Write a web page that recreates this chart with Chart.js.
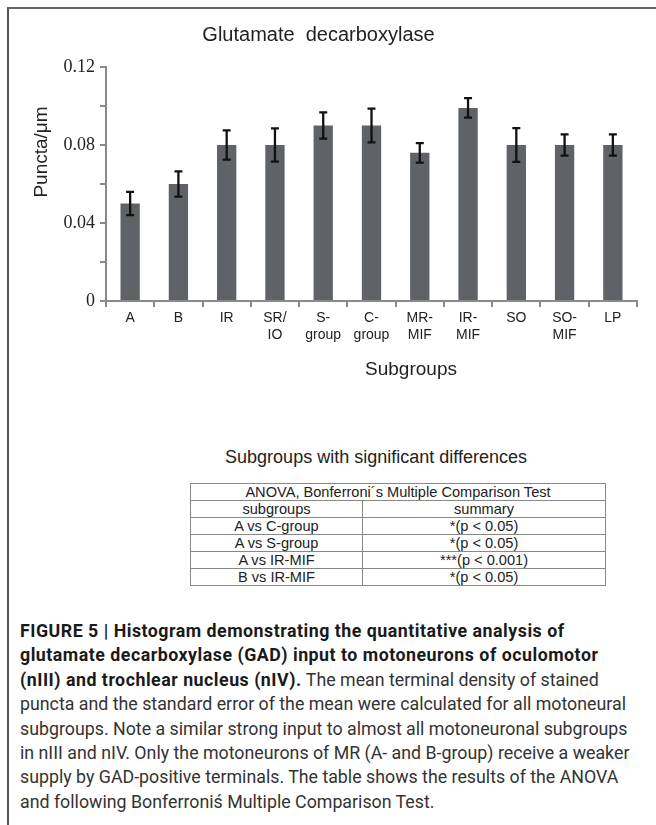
<!DOCTYPE html>
<html>
<head>
<meta charset="utf-8">
<script src="https://cdn.jsdelivr.net/npm/chart.js@4"></script>
<style>
  body { margin: 0; background: #fff; width: 656px; height: 825px; position: relative; overflow: hidden; font-family: "Liberation Sans", Arial, sans-serif; }
  #frame { position: absolute; left: 7px; top: 7px; right: -5px; bottom: -5px; border-top: 2px solid #666; border-left: 2px solid #555; }
  #wrap { position: absolute; left: 0; top: 0; width: 656px; height: 400px; }
  #sub { position: absolute; left: 0; width: 752px; top: 447px; text-align: center; font-size: 18px; color: #222; }
  table { position: absolute; left: 190px; top: 483px; width: 416px; border-collapse: collapse; font-size: 14.6px; color: #222; }
  td { border: 1px solid #888; height: 16px; padding: 0; line-height: 16px; text-align: center; }
  #cap { position: absolute; left: 20px; top: 619px; width: 650px; font-family: Roboto, "Liberation Sans", sans-serif; font-size: 17.8px; line-height: 24.4px; color: #333; white-space: nowrap; }
  #cap b { color: #1a1a1a; letter-spacing: 0.5px; }
</style>
</head>
<body>
<div id="frame"></div>
<div id="wrap"><canvas id="gad"></canvas></div>
<div id="sub">Subgroups with significant differences</div>
<table id="tbl"></table>
<div id="cap"><b>FIGURE 5 | Histogram demonstrating the quantitative analysis of<br>glutamate decarboxylase (GAD) input to motoneurons of oculomotor<br>(nIII) and trochlear nucleus (nIV).</b> The mean terminal density of stained<br>puncta and the standard error of the mean were calculated for all motoneural<br>subgroups. Note a similar strong input to almost all motoneuronal subgroups<br>in nIII and nIV. Only the motoneurons of MR (A- and B-group) receive a weaker<br>supply by GAD-positive terminals. The table shows the results of the ANOVA<br>and following Bonferronis&#769; Multiple Comparison Test.</div>
<script>
// data
const subgroups = [['A'], ['B'], ['IR'], ['SR/', 'IO'], ['S-', 'group'], ['C-', 'group'], ['MR-', 'MIF'], ['IR-', 'MIF'], ['SO'], ['SO-', 'MIF'], ['LP']];
const punctaMean = [0.050, 0.060, 0.080, 0.080, 0.090, 0.090, 0.076, 0.099, 0.080, 0.080, 0.080];
const punctaSem = [0.006, 0.0065, 0.0075, 0.0085, 0.0067, 0.0087, 0.005, 0.005, 0.0087, 0.0054, 0.0054];
const yTickLabels = ['0', '0.04', '0.08', '0.12'];

const tableHead = 'ANOVA, Bonferroni\u00b4s Multiple Comparison Test';
const tableCols = ['subgroups', 'summary'];
const comparisons = ['A vs C-group', 'A vs S-group', 'A vs IR-MIF', 'B vs IR-MIF'];
const summaries = ['*(p < 0.05)', '*(p < 0.05)', '***(p < 0.001)', '*(p < 0.05)'];

// table
const tbl = document.getElementById('tbl');
let html = '<tr><td colspan="2">' + tableHead + '</td></tr>';
html += '<tr><td style="width:171px">' + tableCols[0] + '</td><td>' + tableCols[1] + '</td></tr>';
comparisons.forEach((c, i) => {
  html += '<tr><td>' + c + '</td><td>' + summaries[i] + '</td></tr>';
});
tbl.innerHTML = html;

// error bars + axis titles (the originals sit off-centre, so drawn by hand)
const extras = {
  id: 'extras',
  afterDatasetsDraw(chart) {
    const ctx = chart.ctx;
    const y = chart.scales.y;
    const meta = chart.getDatasetMeta(0);
    ctx.save();
    ctx.strokeStyle = '#111';
    ctx.lineWidth = 2.3;
    meta.data.forEach((bar, i) => {
      const top = y.getPixelForValue(punctaMean[i] + punctaSem[i]);
      const bot = y.getPixelForValue(punctaMean[i] - punctaSem[i]);
      ctx.beginPath();
      ctx.moveTo(bar.x, top); ctx.lineTo(bar.x, bot);
      ctx.moveTo(bar.x - 4, top); ctx.lineTo(bar.x + 4, top);
      ctx.moveTo(bar.x - 4, bot); ctx.lineTo(bar.x + 4, bot);
      ctx.stroke();
    });
    ctx.fillStyle = '#222';
    ctx.font = '19px "Liberation Sans"';
    ctx.textAlign = 'center';
    ctx.textBaseline = 'middle';
    ctx.fillText('Subgroups', 411, 370);
    ctx.translate(42, 152);
    ctx.rotate(-Math.PI / 2);
    ctx.fillText('Puncta/\u03bcm', 0, 0);
    ctx.restore();
  }
};

new Chart(document.getElementById('gad'), {
  type: 'bar',
  data: {
    labels: subgroups,
    datasets: [{
      data: punctaMean,
      backgroundColor: '#5f6367',
      borderWidth: 0,
      categoryPercentage: 1,
      barPercentage: 0.4
    }]
  },
  plugins: [extras],
  options: {
    responsive: true,
    maintainAspectRatio: false,
    animation: false,
    layout: { padding: { left: 0, right: 19, top: 0, bottom: 0 } },
    plugins: {
      legend: { display: false },
      tooltip: { enabled: false },
      title: {
        display: true,
        text: 'Glutamate  decarboxylase',
        color: '#222',
        font: { family: 'Liberation Sans', size: 20, weight: 'normal' },
        padding: { top: 23, bottom: 20 }
      }
    },
    scales: {
      x: {
        afterFit: s => { s.height = 99; },
        grid: { offset: true, drawOnChartArea: false, color: '#8a8a8a', tickLength: 6, lineWidth: 2 },
        border: { color: '#8a8a8a', width: 2 },
        ticks: { color: '#222', font: { family: 'Liberation Sans', size: 14 }, maxRotation: 0, autoSkip: false, padding: 3 }
      },
      y: {
        min: 0,
        max: 0.12,
        afterFit: s => { s.width = 106; },
        grid: { drawOnChartArea: false, color: '#8a8a8a', tickLength: 6, lineWidth: 2 },
        border: { color: '#8a8a8a', width: 2 },
        ticks: {
          stepSize: 0.02,
          color: '#222',
          padding: 5,
          font: { family: 'Liberation Serif', size: 18 },
          callback: v => {
            const k = Math.round(v / 0.04 * 1000) / 1000;
            return Number.isInteger(k) ? yTickLabels[k] : '';
          }
        }
      }
    }
  }
});
</script>
</body>
</html>
